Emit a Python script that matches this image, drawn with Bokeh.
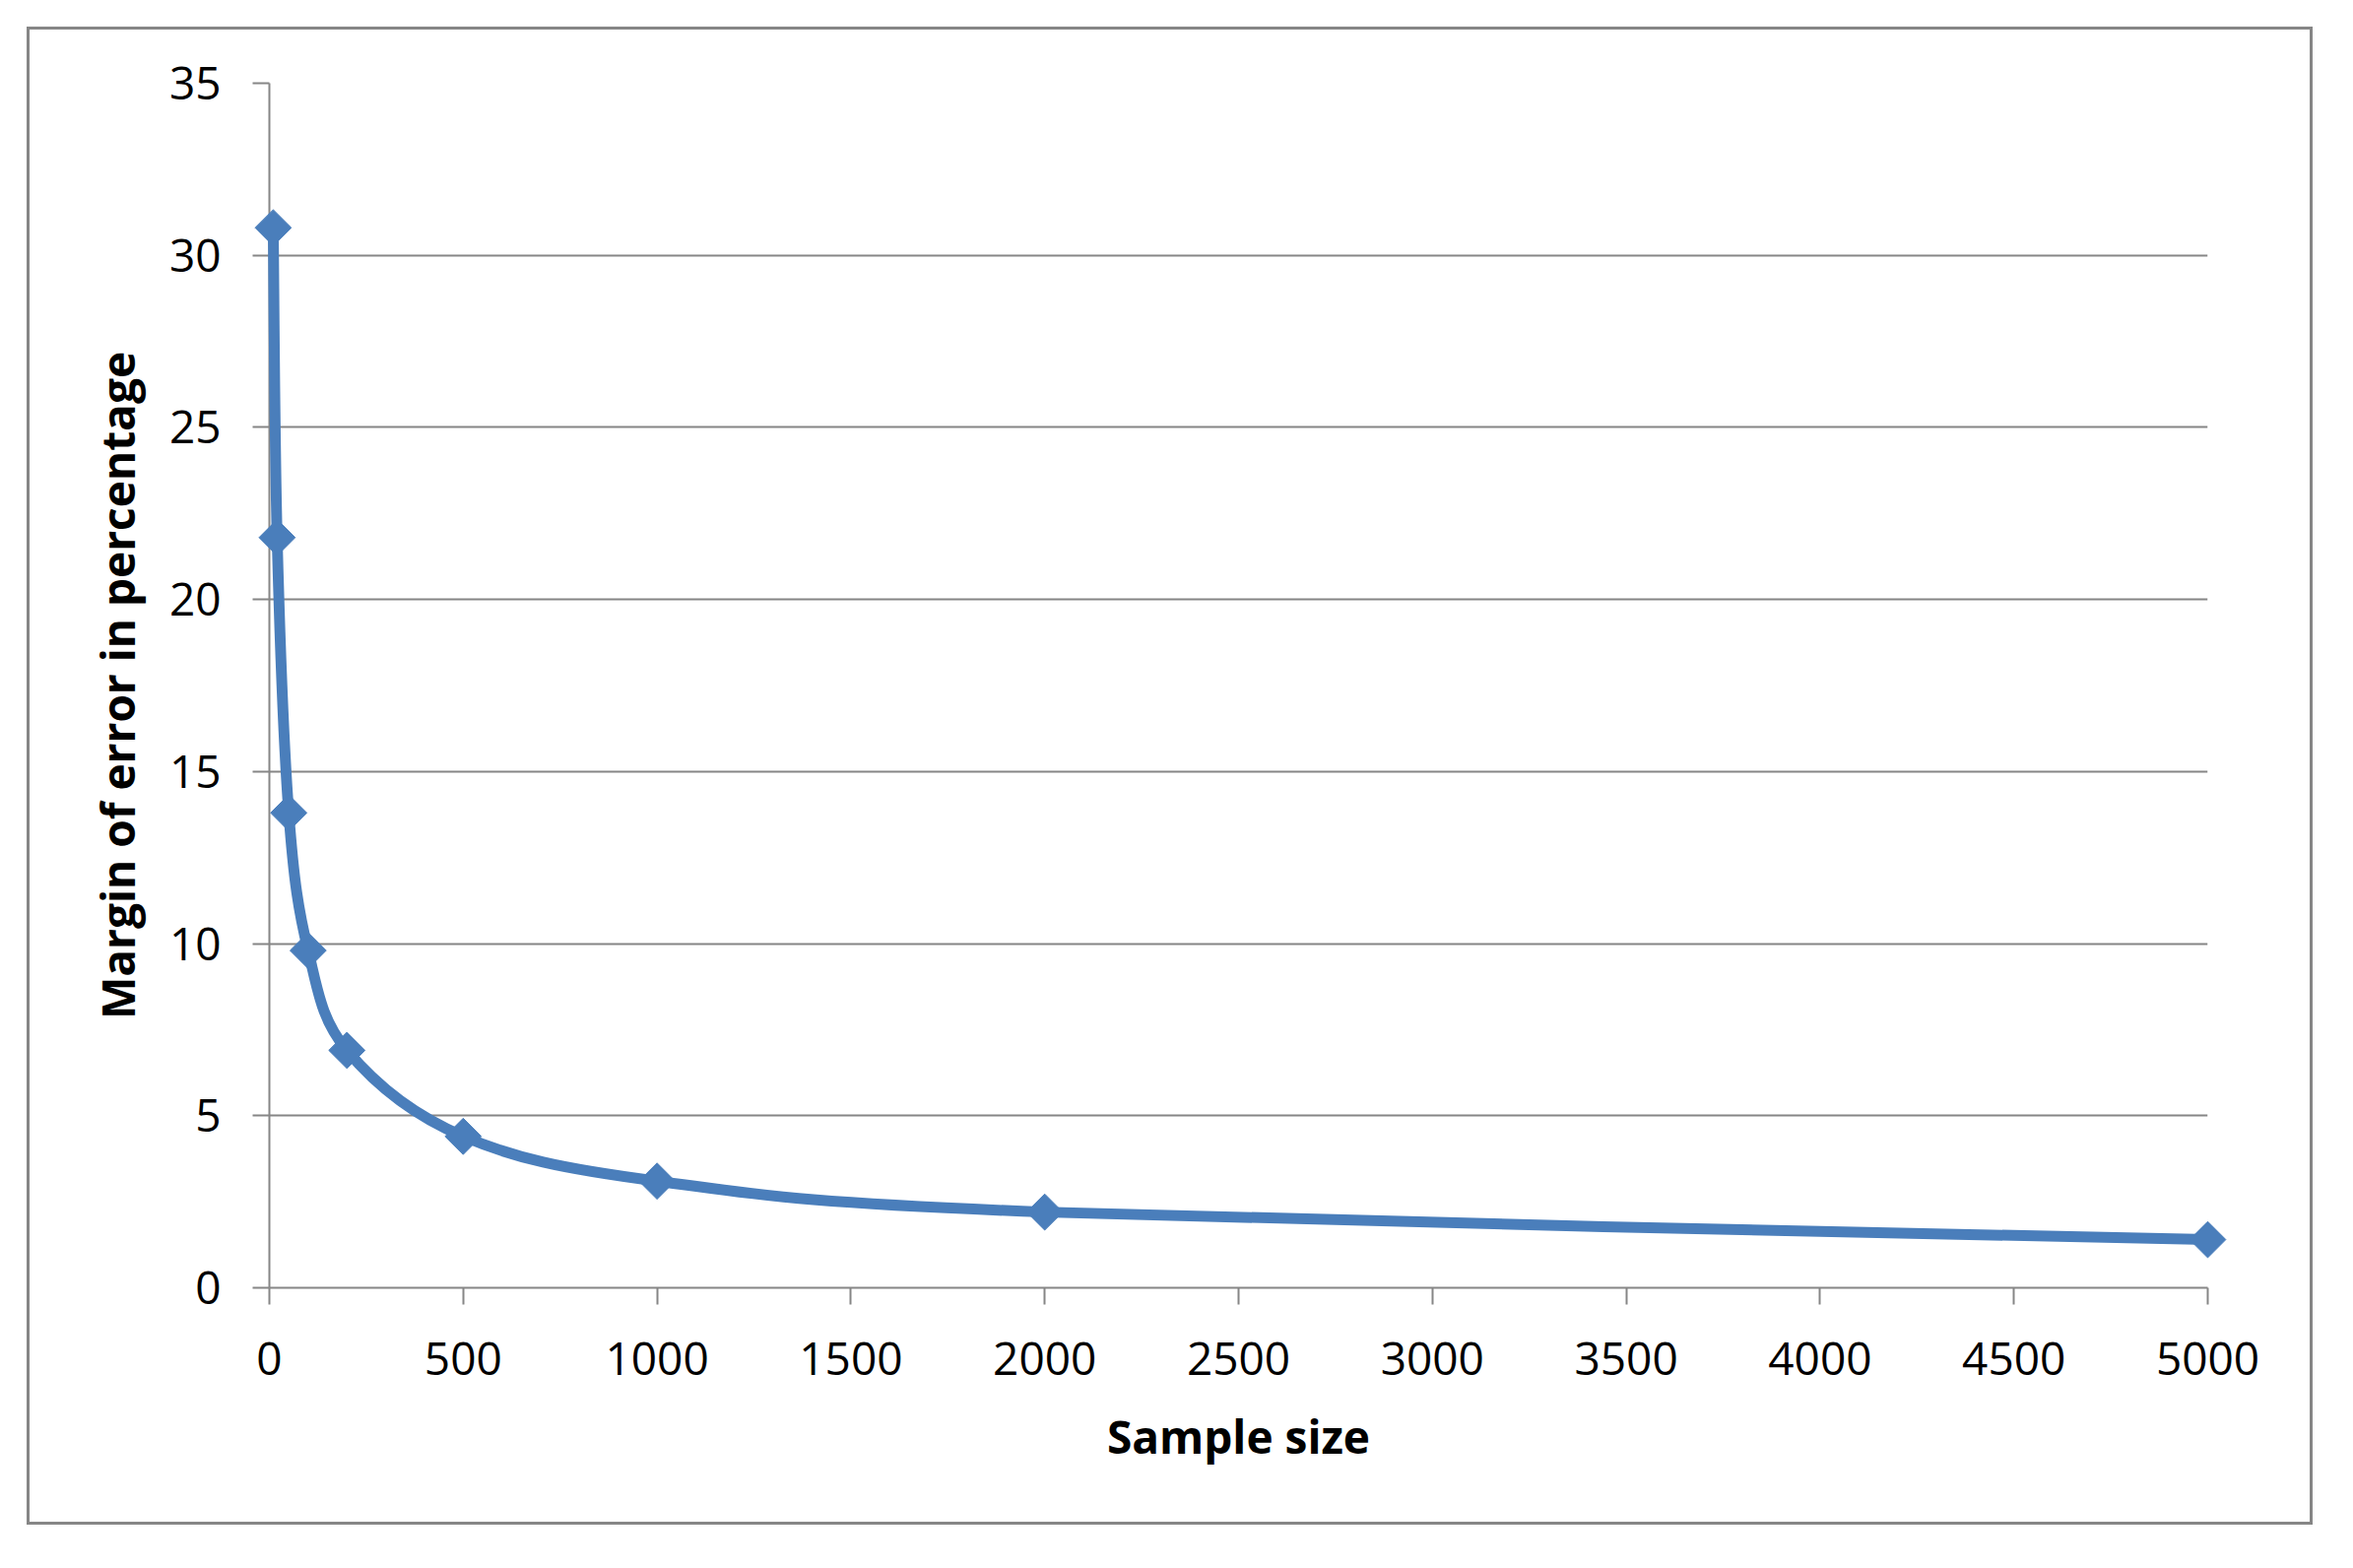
import math
from bokeh.plotting import figure
from bokeh.models import FixedTicker, Range1d
from bokeh.embed import file_html
from bokeh.resources import INLINE

# ---- data ----
sample_size = [10, 20, 50, 100, 200, 500, 1000, 2000, 5000]
margin_of_error = [30.8, 21.8, 13.8, 9.8, 6.9, 4.4, 3.1, 2.2, 1.4]
x_ticks = [0, 500, 1000, 1500, 2000, 2500, 3000, 3500, 4000, 4500, 5000]
y_ticks = [0, 5, 10, 15, 20, 25, 30, 35]
x_title = "Sample size"
y_title = "Margin of error in percentage"

BLUE = "#4A7EBB"
GRAY = "#868686"
FONT = "Open Sans"

W, H = 2315, 1515
p = figure(
    width=W, height=H,
    x_range=Range1d(0, 5000), y_range=Range1d(0, 35),
    output_backend="svg", toolbar_location=None,
    min_border_left=243, min_border_right=104,
    min_border_top=54, min_border_bottom=238,
    margin=(30, 0, 0, 30),
    styles={"box-shadow": "0 0 0 3px #868686"},
)
p.outline_line_color = None
p.background_fill_color = "white"
p.border_fill_color = "white"

# grid
p.xgrid.grid_line_color = None
p.ygrid.grid_line_color = GRAY
p.ygrid.grid_line_width = 2
p.ygrid.ticker = FixedTicker(ticks=y_ticks)

# axes
for ax in (p.xaxis[0], p.yaxis[0]):
    ax.axis_line_color = GRAY
    ax.axis_line_width = 2
    ax.major_tick_line_color = GRAY
    ax.major_tick_line_width = 2
    ax.major_tick_in = 0
    ax.major_tick_out = 17
    ax.minor_tick_line_color = None
    ax.major_label_text_font = FONT
    ax.major_label_text_font_size = "46px"
    ax.major_label_text_color = "black"
    ax.axis_label_text_font = FONT
    ax.axis_label_text_font_size = "46px"
    ax.axis_label_text_font_style = "bold"
    ax.axis_label_text_color = "black"

p.xaxis.ticker = FixedTicker(ticks=x_ticks)
p.yaxis.ticker = FixedTicker(ticks=y_ticks)
p.xaxis.axis_label = x_title
p.yaxis.axis_label = y_title
p.xaxis.major_label_standoff = 38
p.yaxis.major_label_standoff = 32
p.xaxis.axis_label_standoff = 28
p.yaxis.axis_label_standoff = 19

# smoothed line (Catmull-Rom style Bezier segments through data points)
n = len(sample_size)
x0s, y0s, x1s, y1s, cx0s, cy0s, cx1s, cy1s = [], [], [], [], [], [], [], []
for i in range(n - 1):
    xp, yp = sample_size[max(i - 1, 0)], margin_of_error[max(i - 1, 0)]
    xa, ya = sample_size[i], margin_of_error[i]
    xb, yb = sample_size[i + 1], margin_of_error[i + 1]
    xn, yn = sample_size[min(i + 2, n - 1)], margin_of_error[min(i + 2, n - 1)]
    x0s.append(xa); y0s.append(ya)
    x1s.append(xb); y1s.append(yb)
    cx0s.append(xa + (xb - xp) / 6.0); cy0s.append(ya + (yb - yp) / 6.0)
    cx1s.append(xb - (xn - xa) / 6.0); cy1s.append(yb - (yn - ya) / 6.0)

p.bezier(x0=x0s, y0=y0s, x1=x1s, y1=y1s, cx0=cx0s, cy0=cy0s, cx1=cx1s, cy1=cy1s,
         line_color=BLUE, line_width=11, line_cap="round", level="overlay")

p.scatter(sample_size, margin_of_error, marker="square", size=26, angle=math.pi / 4,
          fill_color=BLUE, line_color=BLUE, level="overlay")

open("out.html", "w").write(file_html(p, INLINE))
